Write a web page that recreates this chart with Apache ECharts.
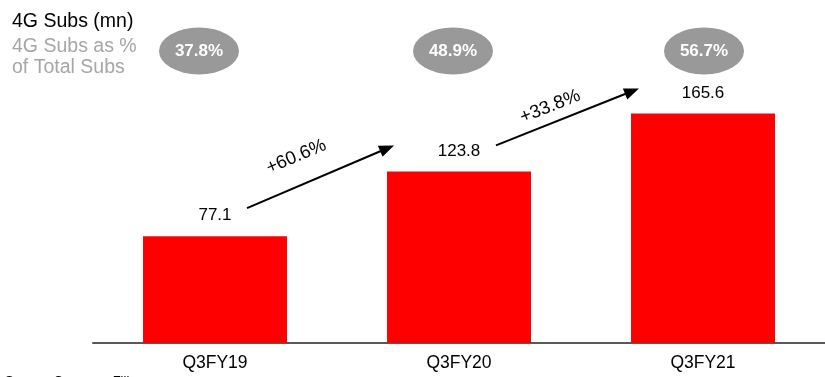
<!DOCTYPE html>
<html>
<head>
<meta charset="utf-8">
<style>
  html, body { margin: 0; padding: 0; background: #fff; }
  #chart { width: 825px; height: 377px; }
</style>
<script src="https://cdn.jsdelivr.net/npm/echarts@6/dist/echarts.min.js"></script>
</head>
<body>
<div id="chart"></div>
<script>
// Quarterly 4G subscriber base (mn) and its share of total subscribers
const categories = ['Q3FY19', 'Q3FY20', 'Q3FY21'];
const subsMn = [77.1, 123.8, 165.6];
const sharePct = [37.8, 48.9, 56.7];
const growthLabels = ['+60.6%', '+33.8%'];

const FONT = '"Liberation Sans", Arial, Helvetica, sans-serif';
// small horizontal nudges of the share bubbles relative to each category centre
const bubbleShift = [[-16, 0], [-6, 0], [1, 0]];

const chart = echarts.init(document.getElementById('chart'));

chart.setOption({
  animation: false,
  backgroundColor: '#ffffff',
  textStyle: { fontFamily: FONT },
  title: [
    { text: '4G Subs (mn)', left: 7, top: 7,
      textStyle: { fontFamily: FONT, fontSize: 19.5, fontWeight: 'normal', color: '#000' } },
    { text: '4G Subs as %\nof Total Subs', left: 7, top: 31,
      textStyle: { fontFamily: FONT, fontSize: 19.5, fontWeight: 'normal', color: '#a6a6a6', lineHeight: 21 } },
    { text: 'Source: Company Filings', left: 0, top: 370,
      textStyle: { fontFamily: FONT, fontSize: 13, fontWeight: 'normal', color: '#000' } }
  ],
  grid: [
    { left: 93, width: 737, top: 65.8, height: 277.2 },
    { left: 93, width: 737, top: 27, height: 48 }
  ],
  xAxis: [
    {
      type: 'category', gridIndex: 0, data: categories,
      axisLine: { lineStyle: { color: '#595959', width: 2 } },
      axisTick: { show: false },
      axisLabel: { color: '#000', fontSize: 17.5, fontFamily: FONT, margin: 11 }
    },
    { type: 'category', gridIndex: 1, data: categories, show: false }
  ],
  yAxis: [
    { type: 'value', gridIndex: 0, min: 0, max: 200, show: false },
    { type: 'value', gridIndex: 1, min: 0, max: 1, show: false }
  ],
  series: [
    {
      type: 'bar', xAxisIndex: 0, yAxisIndex: 0,
      data: subsMn,
      barWidth: '59%',
      itemStyle: { color: '#ff0000' },
      label: {
        show: true, position: 'top', distance: 12,
        color: '#000', fontSize: 17, fontFamily: FONT
      }
    },
    {
      type: 'scatter', xAxisIndex: 1, yAxisIndex: 1,
      symbol: 'circle', symbolSize: [80, 47],
      data: sharePct.map((v, i) => ({ value: [i, 0.5], symbolOffset: bubbleShift[i] })),
      itemStyle: { color: '#999999', opacity: 1 },
      label: {
        show: true, position: 'inside',
        formatter: p => sharePct[p.dataIndex].toFixed(1) + '%',
        color: '#ffffff', fontSize: 17, fontWeight: 'bold', fontFamily: FONT
      },
      silent: true
    }
  ]
});

// growth arrows between consecutive bar tops
function drawArrows() {
  const pt = i => chart.convertToPixel({ seriesIndex: 0 }, [i, subsMn[i]]);
  const p0 = pt(0), p1 = pt(1), p2 = pt(2);
  const arrows = [
    { from: [p0[0] + 32, p0[1] - 28], to: [p1[0] - 65, p1[1] - 26], along: 0.41, normal: 28 },
    { from: [p1[0] + 37, p1[1] - 26], to: [p2[0] - 64, p2[1] - 25], along: 0.42, normal: 16 }
  ];
  const elements = [];
  arrows.forEach((a, k) => {
    const dx = a.to[0] - a.from[0], dy = a.to[1] - a.from[1];
    const len = Math.sqrt(dx * dx + dy * dy);
    const ux = dx / len, uy = dy / len;
    const nx = uy, ny = -ux; // normal pointing up-left
    const head = 15, half = 6;
    const bx = a.to[0] - ux * head, by = a.to[1] - uy * head;
    elements.push({
      type: 'line', silent: true,
      shape: { x1: a.from[0], y1: a.from[1], x2: bx + ux * 2, y2: by + uy * 2 },
      style: { stroke: '#000', lineWidth: 2 }
    });
    elements.push({
      type: 'polygon', silent: true,
      shape: { points: [a.to, [bx + nx * half, by + ny * half], [bx - nx * half, by - ny * half]] },
      style: { fill: '#000' }
    });
    const cx = a.from[0] + ux * len * a.along + nx * a.normal;
    const cy = a.from[1] + uy * len * a.along + ny * a.normal;
    elements.push({
      type: 'text', silent: true,
      x: cx, y: cy,
      rotation: Math.atan2(-dy, dx),
      style: {
        text: growthLabels[k], fill: '#000', font: '18.5px ' + FONT,
        align: 'center', verticalAlign: 'middle'
      }
    });
  });
  chart.setOption({ graphic: elements });
}
drawArrows();
</script>
</body>
</html>
